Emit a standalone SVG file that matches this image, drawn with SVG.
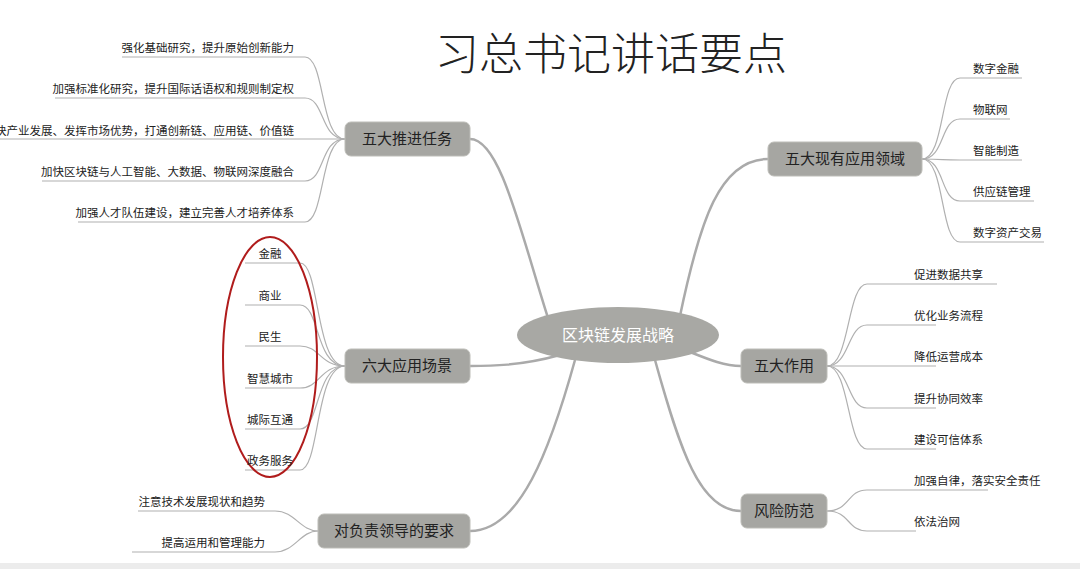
<svg xmlns="http://www.w3.org/2000/svg" width="1080" height="569" viewBox="0 0 1080 569">
<style>
text{font-family:"Noto Sans CJK SC","Liberation Sans",sans-serif;fill:#222}
.leaf{font-size:11.5px}
.node rect{fill:#a6a6a2;stroke:#bdbdb8;stroke-width:1}
.nt{font-size:15px;text-anchor:middle}
.main{fill:none;stroke:#aaa;stroke-width:2.5}
.sub{fill:none;stroke:#b0b0b0;stroke-width:1.2}
</style>
<rect width="1080" height="569" fill="#fff"/>
<rect y="563" width="1080" height="6" fill="#ececec"/>
<text x="611" y="70" font-size="44" text-anchor="middle" style="font-weight:300">习总书记讲话要点</text>
<g id="connectors">
<path class="main" d="M548 318 C520 230 500 139 470 139"/>
<path class="main" d="M560 355 C520 366 490 366 470 366"/>
<path class="main" d="M575 360 C550 450 520 531 470 531"/>
<path class="main" d="M680 316 C700 220 720 159 768 159"/>
<path class="main" d="M690 352 C710 360 725 366 741 366"/>
<path class="main" d="M655 360 C680 450 700 511 741 511"/>
<g class="sub">
<path d="M345 139 C320 139 325 57 305 57 L122 57"/>
<path d="M345 139 C320 139 325 98 305 98 L55 98"/>
<path d="M345 139 L0 139"/>
<path d="M345 139 C320 139 325 181 305 181 L42 181"/>
<path d="M345 139 C320 139 325 222 305 222 L78 222"/>
<path d="M345 366 C315 366 320 263 300 263 L245 263"/>
<path d="M345 366 C315 366 320 305 300 305 L245 305"/>
<path d="M345 366 C320 366 320 346 300 346 L245 346"/>
<path d="M345 366 C320 366 320 388 300 388 L245 388"/>
<path d="M345 366 C315 366 320 429 300 429 L245 429"/>
<path d="M345 366 C315 366 320 470 300 470 L245 470"/>
<path d="M318 531 C300 531 295 511 275 511 L138 511"/>
<path d="M318 531 C300 531 295 552 275 552 L132 552"/>
<path d="M922 159 C945 159 940 78 960 78 L1022 78"/>
<path d="M922 159 C945 159 940 119 960 119 L1010 119"/>
<path d="M922 159 C945 159 940 160 960 160 L1022 160"/>
<path d="M922 159 C945 159 940 201 960 201 L1034 201"/>
<path d="M922 159 C945 159 940 242 960 242 L1044 242"/>
<path d="M827 366 C850 366 847 284 867 284 L997 284"/>
<path d="M827 366 C850 366 847 325 867 325 L936 325"/>
<path d="M827 366 L936 366"/>
<path d="M827 366 C850 366 847 408 867 408 L936 408"/>
<path d="M827 366 C850 366 847 449 867 449 L936 449"/>
<path d="M827 511 C850 511 847 490 867 490 L988 490"/>
<path d="M827 511 C850 511 847 531 867 531 L916 531"/>
</g>
<ellipse cx="270" cy="357" rx="47" ry="120" fill="none" stroke="#b01c1c" stroke-width="2"/>
</g>
<g id="center"><ellipse cx="618" cy="335" rx="101" ry="28" fill="#a8a8a4"/><text x="618" y="341" font-size="16" text-anchor="middle" style="fill:#fff">区块链发展战略</text></g>
<g id="n1" class="node"><rect x="345" y="122" width="125" height="34" rx="6"/><text class="nt" x="407" y="144">五大推进任务</text></g>
<g id="n2" class="node"><rect x="345" y="349" width="125" height="34" rx="6"/><text class="nt" x="407" y="371">六大应用场景</text></g>
<g id="n3" class="node"><rect x="318" y="514" width="152" height="34" rx="6"/><text class="nt" x="394" y="536">对负责领导的要求</text></g>
<g id="n4" class="node"><rect x="768" y="142" width="154" height="34" rx="6"/><text class="nt" x="845" y="164">五大现有应用领域</text></g>
<g id="n5" class="node"><rect x="741" y="349" width="86" height="34" rx="6"/><text class="nt" x="784" y="371">五大作用</text></g>
<g id="n6" class="node"><rect x="741" y="494" width="86" height="34" rx="6"/><text class="nt" x="784" y="516">风险防范</text></g>
<g id="leaves" class="leaf">
<g text-anchor="end">
<text x="294" y="52">强化基础研究，提升原始创新能力</text>
<text x="294" y="93">加强标准化研究，提升国际话语权和规则制定权</text>
<text x="294" y="135">快产业发展、发挥市场优势，打通创新链、应用链、价值链</text>
<text x="294" y="176">加快区块链与人工智能、大数据、物联网深度融合</text>
<text x="294" y="217">加强人才队伍建设，建立完善人才培养体系</text>
<text x="265" y="506">注意技术发展现状和趋势</text>
<text x="265" y="547">提高运用和管理能力</text>
</g>
<g text-anchor="middle">
<text x="270" y="258">金融</text>
<text x="270" y="300">商业</text>
<text x="270" y="341">民生</text>
<text x="270" y="383">智慧城市</text>
<text x="270" y="424">城际互通</text>
<text x="270" y="465">政务服务</text>
</g>
<text x="973" y="73">数字金融</text>
<text x="973" y="114">物联网</text>
<text x="973" y="155">智能制造</text>
<text x="973" y="196">供应链管理</text>
<text x="973" y="237">数字资产交易</text>
<text x="914" y="279">促进数据共享</text>
<text x="914" y="320">优化业务流程</text>
<text x="914" y="361">降低运营成本</text>
<text x="914" y="403">提升协同效率</text>
<text x="914" y="444">建设可信体系</text>
<text x="914" y="485">加强自律，落实安全责任</text>
<text x="914" y="526">依法治网</text>
</g>
</svg>
